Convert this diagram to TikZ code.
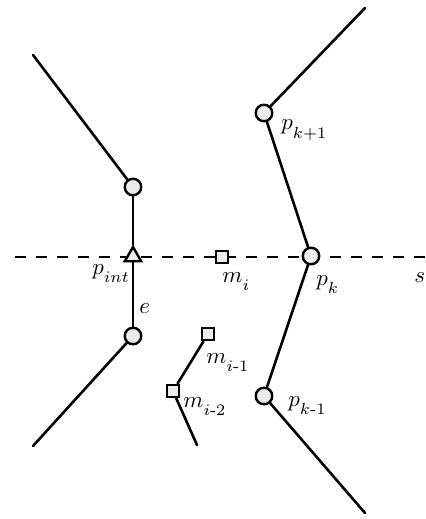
\documentclass[tikz,border=0pt]{standalone}
\usepackage{amsmath}
\usetikzlibrary{shapes.geometric}
% subscript set lower than usual
\newcommand{\lowsub}[2]{#1_{\lower2.4bp\hbox{$\scriptstyle #2$}}}
\begin{document}
\begin{tikzpicture}[x=1bp,y=-1bp,
  seg/.style={line width=2.6bp, line cap=round},
  vtx/.style={circle, draw, line width=2.4bp, fill=black!8, inner sep=0pt, minimum size=16.5bp},
  mid/.style={rectangle, draw, line width=2.4bp, fill=black!8, inner sep=0pt, minimum size=12.5bp},
  cross/.style={regular polygon, regular polygon sides=3, draw, line width=2.4bp, fill=black!8, inner sep=0pt, minimum size=19bp},
  lbl/.style={scale=2.3, transform shape, inner sep=0pt}]
\useasboundingbox (0,0) rectangle (425,519);

% scan line s
\coordinate (s0) at (15,257);
\coordinate (s1) at (430,257);
\draw[line width=2.6bp, dash pattern=on 11bp off 10bp] (s0) -- (s1);
\node[lbl, anchor=base west] (slbl) at (414,282) {$s$};

% free ends of the chains
\coordinate (a0) at (33,55);
\coordinate (a1) at (33,446);
\coordinate (b0) at (365,8);
\coordinate (b1) at (365,513);
\coordinate (m0) at (197,445);

% vertices
\node[vtx] (c1) at (133,187) {};
\node[vtx] (c2) at (133,336) {};
\node[cross] (pint) at (133,256.5) {};
\node[vtx] (pk1) at (264,113) {};
\node[vtx] (pk) at (311,256) {};
\node[vtx] (pkm) at (264,396) {};
\node[mid] (mi) at (222,257) {};
\node[mid] (mi1) at (208,334) {};
\node[mid] (mi2) at (173,391) {};

% left chain
\draw[seg] (a0) -- (c1);
\draw[seg] (c1) -- (pint);
\draw[seg] (pint) -- (c2);
\draw[seg] (c2) -- (a1);
% right chain
\draw[seg] (b0) -- (pk1);
\draw[seg] (pk1) -- (pk);
\draw[seg] (pk) -- (pkm);
\draw[seg] (pkm) -- (b1);
% midpoint chain
\draw[seg] (mi1) -- (mi2);
\draw[seg] (mi2) -- (m0);

% labels
\node[lbl, anchor=base west] (lpint) at (92,274) {$\lowsub{p}{int}$};
\node[lbl, anchor=base west] (le) at (139,313) {$e$};
\node[lbl, anchor=base west] (lmi) at (222,282) {$\lowsub{m}{i}$};
\node[lbl, anchor=base west] (lpk) at (316,285) {$\lowsub{p}{k}$};
\node[lbl, anchor=base west] (lpk1) at (281,130) {$\lowsub{p}{k+1}$};
\node[lbl, anchor=base west] (lmi1) at (206,363) {$\lowsub{m}{i\text{-}1}$};
\node[lbl, anchor=base west] (lmi2) at (183,407) {$\lowsub{m}{i\text{-}2}$};
\node[lbl, anchor=base west] (lpkm) at (288,406) {$\lowsub{p}{k\text{-}1}$};
\end{tikzpicture}
\end{document}
